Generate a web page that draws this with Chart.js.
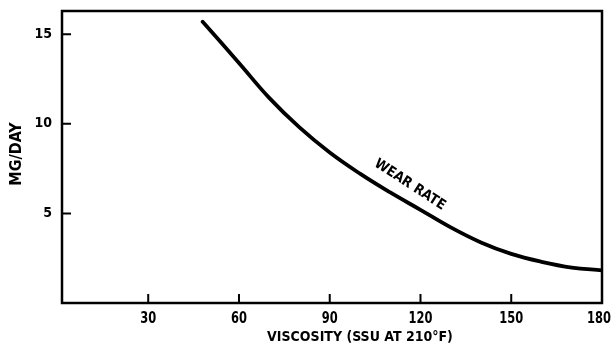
<!DOCTYPE html>
<html>
<head>
<meta charset="utf-8">
<script src="https://cdn.jsdelivr.net/npm/chart.js@4.4.1/dist/chart.umd.min.js"></script>
<style>
html,body{margin:0;padding:0;background:#fff;}
#wrap{width:612px;height:348px;position:relative;}
</style>
</head>
<body>
<div id="wrap"><canvas id="c" width="612" height="348"></canvas></div>
<script>
const viscosity = [48, 60, 70, 80, 90, 100, 110, 120, 130, 140, 150, 160, 170, 180];
const wearRate  = [15.7, 13.4, 11.45, 9.8, 8.4, 7.22, 6.17, 5.2, 4.22, 3.38, 2.74, 2.3, 1.98, 1.82];
const xTicks = [30, 60, 90, 120, 150, 180];
const yTicks = [5, 10, 15];
const seriesLabel = 'WEAR RATE';
const xTitle = 'VISCOSITY (SSU AT 210°F)';
const yTitle = 'MG/DAY';

const FONT = '"Liberation Sans Narrow", "DejaVu Sans Condensed", "Liberation Sans", sans-serif';

const points = viscosity.map((v, i) => ({x: v, y: wearRate[i]}));

const deco = {
  id: 'deco',
  afterDraw(chart) {
    const ctx = chart.ctx;
    const a = chart.chartArea;
    const xs = chart.scales.x, ys = chart.scales.y;
    ctx.save();
    ctx.strokeStyle = '#000';
    ctx.lineWidth = 2.5;
    ctx.strokeRect(a.left, a.top, a.right - a.left, a.bottom - a.top);
    ctx.lineWidth = 2;
    ctx.beginPath();
    xTicks.forEach(t => {
      const px = xs.getPixelForValue(t);
      ctx.moveTo(px, a.bottom);
      ctx.lineTo(px, a.bottom - 9);
    });
    yTicks.forEach(t => {
      const py = ys.getPixelForValue(t);
      ctx.moveTo(a.left, py);
      ctx.lineTo(a.left + 9, py);
    });
    ctx.stroke();
    ctx.fillStyle = '#000';
    ctx.textBaseline = 'middle';
    // x tick labels (condensed), last one kept inside the canvas
    ctx.font = 'bold 15px ' + FONT;
    ctx.textAlign = 'center';
    xTicks.forEach(t => {
      const txt = String(t);
      const w = ctx.measureText(txt).width * 0.85;
      let cx = xs.getPixelForValue(t);
      if (cx + w / 2 > chart.width - 1) cx = chart.width - 1 - w / 2;
      ctx.save();
      ctx.translate(cx, 319);
      ctx.scale(0.85, 1);
      ctx.fillText(txt, 0, 0);
      ctx.restore();
    });
    ctx.font = 'bold 14px ' + FONT;
    ctx.fillText(xTitle, 360, 337);
    ctx.save();
    ctx.translate(17, 154);
    ctx.rotate(-Math.PI / 2);
    ctx.font = 'bold 16px ' + FONT;
    ctx.fillText(yTitle, 0, 0);
    ctx.restore();
    const lx = xs.getPixelForValue(116.5), ly = ys.getPixelForValue(6.6);
    ctx.translate(lx, ly);
    ctx.rotate(33 * Math.PI / 180);
    ctx.font = 'bold 14px ' + FONT;
    ctx.fillText(seriesLabel, 0, 0);
    ctx.restore();
  }
};

new Chart(document.getElementById('c'), {
  type: 'scatter',
  data: {
    datasets: [{
      label: seriesLabel,
      data: points,
      showLine: true,
      borderColor: '#000',
      borderWidth: 3.8,
      pointRadius: 0,
      tension: 0.4,
      borderCapStyle: 'round',
      fill: false
    }]
  },
  options: {
    responsive: false,
    animation: false,
    devicePixelRatio: 1,
    layout: {padding: {top: 11, right: 10, left: 0, bottom: 0}},
    plugins: {legend: {display: false}, tooltip: {enabled: false}},
    scales: {
      x: {
        type: 'linear',
        min: 1.5, max: 180,
        afterBuildTicks: s => { s.ticks = xTicks.map(v => ({value: v})); },
        afterFit: s => { s.height = 45; s.paddingLeft = 0; s.paddingRight = 0; },
        grid: {display: false, drawTicks: false},
        border: {display: false},
        ticks: {display: false}
      },
      y: {
        type: 'linear',
        min: 0, max: 16.3,
        afterBuildTicks: s => { s.ticks = yTicks.map(v => ({value: v})); },
        afterFit: s => { s.width = 62; s.paddingTop = 0; s.paddingBottom = 0; },
        grid: {display: false, drawTicks: false},
        border: {display: false},
        ticks: {color: '#000', font: {family: FONT, size: 14, weight: 'bold'}, padding: 10}
      }
    }
  },
  plugins: [deco]
});
</script>
</body>
</html>
